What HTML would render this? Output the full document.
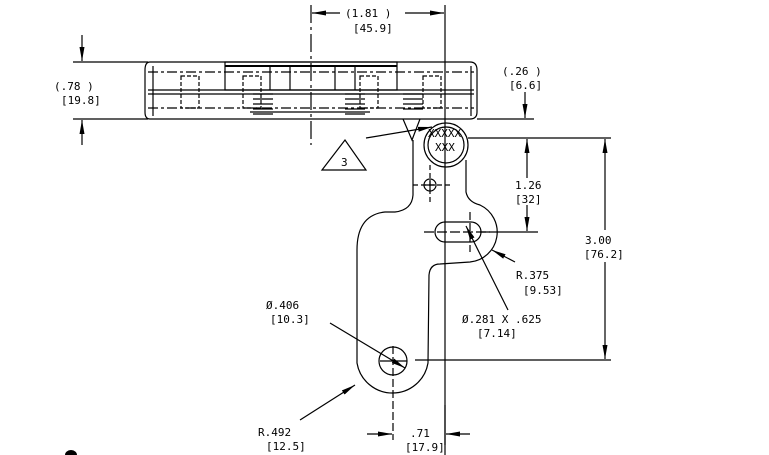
<!DOCTYPE html>
<html><head><style>
html,body{margin:0;padding:0;background:#fff;}
svg{display:block}
text{font-family:"DejaVu Sans Mono","Liberation Mono",monospace;font-size:11px;fill:#000;}
</style></head><body>
<svg width="769" height="455" viewBox="0 0 769 455" xmlns="http://www.w3.org/2000/svg">
<defs>
<marker id="a" viewBox="0 0 14 5" refX="14" refY="2.5" markerWidth="14" markerHeight="5" orient="auto" markerUnits="userSpaceOnUse"><path d="M0,0 L14,2.5 L0,5z" fill="#000"/></marker>
</defs>
<g stroke="#000" stroke-width="1.2" fill="none">
<line x1="311" y1="5" x2="311" y2="145" stroke-dasharray="18,4,3,4"/>
<line x1="445" y1="5" x2="445" y2="455"/>
<line x1="340" y1="13" x2="312" y2="13" marker-end="url(#a)"/>
<line x1="405" y1="13" x2="444" y2="13" marker-end="url(#a)"/>
<line x1="73" y1="62" x2="148" y2="62"/>
<line x1="73" y1="119" x2="148" y2="119"/>
<line x1="82" y1="35" x2="82" y2="61" marker-end="url(#a)"/>
<line x1="82" y1="145" x2="82" y2="120" marker-end="url(#a)"/>
<path d="M150,62 L470,62 Q477,62 477,70 L477,112 Q477,119 470,119 L150,119 Q145,119 145,112 L145,70 Q145,62 150,62Z"/>
<path d="M153,66 L153,116 M471,66 L471,116"/>
<line x1="148" y1="72" x2="474" y2="72" stroke-dasharray="10,3,3,3"/>
<line x1="148" y1="90" x2="474" y2="90"/>
<line x1="148" y1="94" x2="474" y2="94"/>
<line x1="148" y1="108" x2="474" y2="108" stroke-dasharray="10,3,3,3"/>
<rect x="225" y="62" width="172" height="28"/>
<line x1="225" y1="66" x2="397" y2="66" stroke-width="2"/>
<line x1="270" y1="66" x2="270" y2="90"/><line x1="290" y1="66" x2="290" y2="90"/><line x1="335" y1="66" x2="335" y2="90"/><line x1="355" y1="66" x2="355" y2="90"/>
<rect x="181" y="76" width="18" height="32" stroke-dasharray="4,2"/>
<rect x="243" y="76" width="18" height="32" stroke-dasharray="4,2"/>
<rect x="360" y="76" width="18" height="32" stroke-dasharray="4,2"/>
<rect x="423" y="76" width="18" height="32" stroke-dasharray="4,2"/>
<path d="M253,94 h20 M253,99 h20 M253,104 h20 M253,109 h20 M253,114 h20"/>
<path d="M345,94 h20 M345,99 h20 M345,104 h20 M345,109 h20 M345,114 h20"/>
<path d="M403,94 h20 M403,99 h20 M403,104 h20 M403,109 h20"/>
<line x1="250" y1="112" x2="370" y2="112"/>
<line x1="477" y1="119" x2="534" y2="119"/>
<line x1="525" y1="92" x2="525" y2="118" marker-end="url(#a)"/>
<line x1="468" y1="138" x2="611" y2="138"/>
<line x1="480" y1="232" x2="538" y2="232"/>
<line x1="415" y1="360" x2="611" y2="360"/>
<line x1="527" y1="178" x2="527" y2="139" marker-end="url(#a)"/>
<line x1="527" y1="205" x2="527" y2="231" marker-end="url(#a)"/>
<line x1="605" y1="230" x2="605" y2="139" marker-end="url(#a)"/>
<line x1="605" y1="262" x2="605" y2="359" marker-end="url(#a)"/>
<path d="M403,119 L412,140 L420,119"/>
<circle cx="446" cy="145" r="22"/>
<circle cx="446" cy="145" r="18"/>
<path d="M413,140 L413,195 Q412,210 395,212 L385,212 Q357,215 357,250 L357,363 A36,36 0 0 0 428,363 L429,275 Q430,264 440,264 L470,262 A30,30 0 0 0 480,205 Q468,202 466,192 L466,160"/>
<circle cx="393" cy="361" r="14"/>
<rect x="435" y="222" width="46" height="20" rx="10"/>
<circle cx="430" cy="185" r="6"/>
<path d="M430,180 v10 M425,185 h10"/>
<line x1="380" y1="361" x2="407" y2="361" />
<line x1="393" y1="346" x2="393" y2="440" stroke-dasharray="8,3"/>
<line x1="424" y1="232" x2="490" y2="232" stroke-dasharray="10,3"/>
<line x1="470" y1="212" x2="470" y2="252" stroke-dasharray="8,3"/>
<line x1="430" y1="165" x2="430" y2="205" stroke-dasharray="5,3"/>
<line x1="413" y1="185" x2="452" y2="185" stroke-dasharray="5,3"/>
<line x1="330" y1="323" x2="405" y2="368" marker-end="url(#a)"/>
<line x1="508" y1="310" x2="466" y2="226" marker-end="url(#a)"/>
<line x1="515" y1="262" x2="492" y2="250" marker-end="url(#a)"/>
<line x1="300" y1="420" x2="355" y2="385" marker-end="url(#a)"/>
<line x1="366" y1="138" x2="432" y2="127" marker-end="url(#a)"/>
<path d="M322,170 L345,140 L366,170Z"/>
<line x1="445" y1="405" x2="445" y2="445"/>
<line x1="367" y1="434" x2="392" y2="434" marker-end="url(#a)"/>
<line x1="470" y1="434" x2="446" y2="434" marker-end="url(#a)"/>
</g>
<path d="M65,455 A6,5 0 0 1 77,455Z" fill="#000"/>
<text x="345" y="17">(1.81  )</text>
<text x="353" y="32">[45.9]</text>
<text x="54" y="90">(.78  )</text>
<text x="61" y="104">[19.8]</text>
<text x="502" y="75">(.26  )</text>
<text x="509" y="89">[6.6]</text>
<text x="341" y="166" font-size="9">3</text>
<text x="428" y="137" font-size="10">XXXXX</text>
<text x="435" y="151" font-size="10">XXX</text>
<text x="515" y="189">1.26</text>
<text x="515" y="203">[32]</text>
<text x="585" y="244">3.00</text>
<text x="584" y="258">[76.2]</text>
<text x="516" y="279">R.375</text>
<text x="523" y="294">[9.53]</text>
<text x="462" y="323">Ø.281  X .625</text>
<text x="477" y="337">[7.14]</text>
<text x="266" y="309">Ø.406</text>
<text x="270" y="323">[10.3]</text>
<text x="258" y="436">R.492</text>
<text x="266" y="450">[12.5]</text>
<text x="410" y="437">.71</text>
<text x="405" y="451">[17.9]</text>
</svg>
</body></html>
